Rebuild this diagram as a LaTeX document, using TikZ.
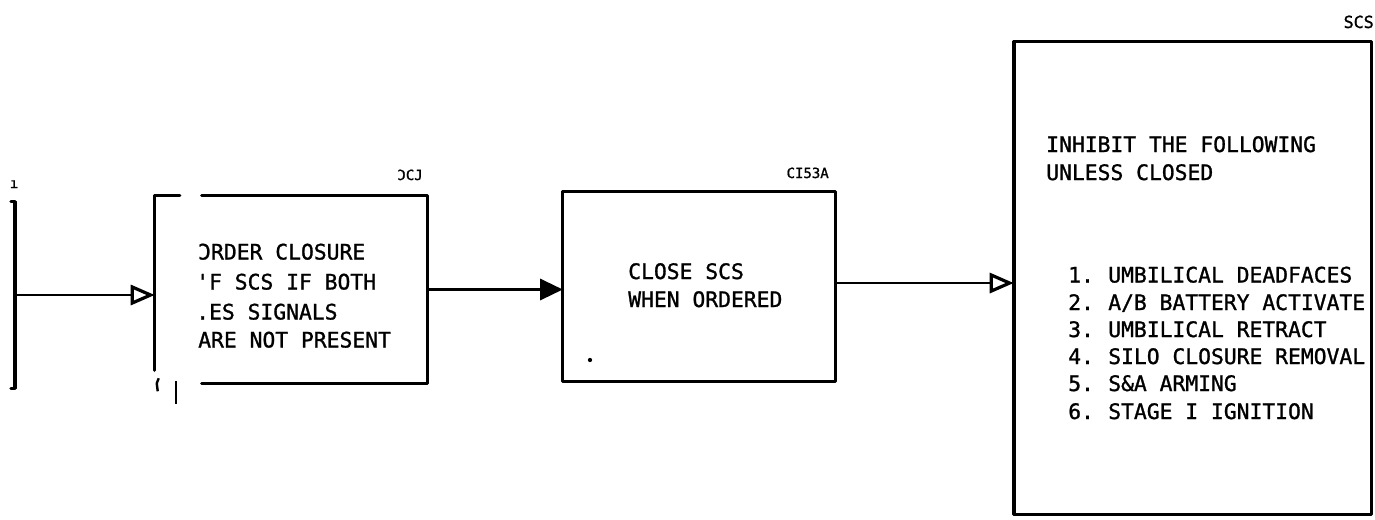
\documentclass[tikz,border=0pt]{standalone}
\usepackage{fontspec}
\newfontfamily\mono[FakeBold=1.2]{DejaVu Sans Mono}
\usetikzlibrary{arrows.meta,fit,calc}
\tikzset{
  box/.style={draw=none, inner sep=0pt},
  edge/.style={line width=2.6pt, line cap=round, line join=round},
  txt/.style={anchor=base west, inner sep=0pt, font=\mono\fontsize{16}{16}\selectfont},
  lbl/.style={anchor=base east, inner sep=0pt, font=\mono\fontsize{10.5}{10.5}\selectfont},
  conn/.style={line width=1.7pt},
  openarr/.style={conn, -{Triangle[open, length=18pt, width=15pt, line width=2.4pt]}},
  fillarr/.style={conn, -{Triangle[length=17pt, width=16pt]}},
}
\begin{document}
\begin{tikzpicture}[x=0.75pt,y=-0.75pt]
\useasboundingbox (0,0) rectangle (1375,519);

% invisible frames of the blocks
\node[box, fit={(15,202) (15,388)}] (lb) {};
\node[box, fit={(155,196) (427,383)}] (b1) {};
\node[box, fit={(563,192) (835,381)}] (b2) {};
\node[box, fit={(1014,42) (1371,514)}] (b3) {};

% left bar
\draw[edge] ($(lb.north)+(-4,0)$) -- (lb.north) -- (lb.south) -- ($(lb.south)+(-4,0)$);
\node[lbl, anchor=base] (la) at (14,188) {ı};

% block 1 (partly cut)
\draw[edge] ($(b1.north west)+(25,0)$) -- (b1.north west) -- ($(b1.south west)+(0,-13)$);
\draw[edge] ($(b1.north west)+(47,0)$) -- (b1.north east) -- (b1.south east) -- ($(b1.south west)+(47,0)$);
\draw[line width=1.8pt] ($(b1.south west)+(21,-2)$) -- ($(b1.south west)+(21,21)$);
\draw[line width=1.8pt] ($(b1.south west)+(4,-5)$) -- ($(b1.south west)+(2,0)$) -- ($(b1.south west)+(3,8)$);
\node[lbl] (l1) at (423,180) {ƆCJ};
\node[txt] (t11) at (198,259.5) {ƆRDER CLOSURE};
\node[txt] (t12) at (196,289.5) {'F SCS IF BOTH};
\node[txt] (t13) at (196,319.5) {.ES SIGNALS};
\node[txt] (t14) at (198,347.5) {ARE NOT PRESENT};

% block 2
\draw[edge] (b2.north west) rectangle (b2.south east);
\node[lbl] (l2) at (829,178) {CI53A};
\node[txt] (t21) at (628,279) {CLOSE SCS};
\node[txt] (t22) at (628,307) {WHEN ORDERED};
\fill (590,360) circle[radius=1.6pt];

% block 3
\draw[edge] (b3.north west) rectangle (b3.south east);
\draw[line width=3.2pt] (b3.north west) -- (b3.south west);
\node[lbl, font=\mono\fontsize{12.5}{12.5}\selectfont] (l3) at (1374,28) {SCS};
\node[txt] (t31) at (1046,152) {INHIBIT THE FOLLOWING};
\node[txt] (t32) at (1046,180) {UNLESS CLOSED};
\node[txt] (n1) at (1068,282.5) {1.};
\node[txt] (n2) at (1068,310) {2.};
\node[txt] (n3) at (1068,337) {3.};
\node[txt] (n4) at (1068,364) {4.};
\node[txt] (n5) at (1068,391) {5.};
\node[txt] (n6) at (1068,419) {6.};
\node[txt] (i1) at (1108,282.5) {UMBILICAL DEADFACES};
\node[txt] (i2) at (1108,310) {A/B BATTERY ACTIVATE};
\node[txt] (i3) at (1108,337) {UMBILICAL RETRACT};
\node[txt] (i4) at (1108,364) {SILO CLOSURE REMOVAL};
\node[txt] (i5) at (1108,391) {S\&A ARMING};
\node[txt] (i6) at (1108,419) {STAGE I IGNITION};

% connectors
\draw[openarr] (lb.east) -- (lb.east -| b1.west);
\draw[fillarr] (b1.east) -- (b1.east -| b2.west);
\draw[openarr] ([yshift=2.6pt]b2.east) -- ([yshift=2.6pt]b2.east -| b3.west);
\end{tikzpicture}
\end{document}
